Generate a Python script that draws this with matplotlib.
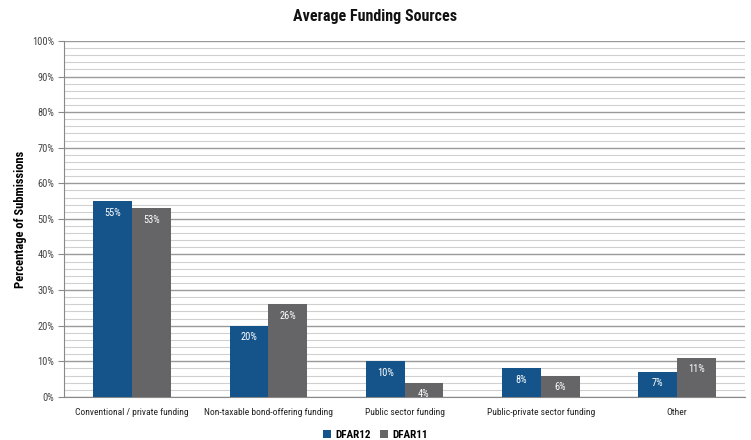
import matplotlib.pyplot as plt
import numpy as np
from matplotlib.ticker import MultipleLocator, FuncFormatter

# narrow faces first; whichever is installed gets used
plt.rcParams['font.family'] = ['Liberation Sans Narrow', 'DejaVu Sans Condensed',
                               'Roboto Condensed', 'Roboto', 'DejaVu Sans']

categories = ['Conventional / private funding', 'Non-taxable bond-offering funding',
              'Public sector funding', 'Public-private sector funding', 'Other']
dfar12 = [55, 20, 10, 8, 7]
dfar11 = [53, 26, 4, 6, 11]

blue = '#14548a'
grey = '#656567'

fig = plt.figure(figsize=(7.51, 4.40), dpi=100)
ax = fig.add_axes([0.0852, 0.098, 0.907, 0.809])

x = np.arange(len(categories))
w = 0.285
b1 = ax.bar(x - w / 2, dfar12, w, color=blue, label='DFAR12', zorder=3)
b2 = ax.bar(x + w / 2, dfar11, w, color=grey, label='DFAR11', zorder=3)

for bars, vals in ((b1, dfar12), (b2, dfar11)):
    for r, v in zip(bars, vals):
        ax.text(r.get_x() + r.get_width() / 2, v - 1.8, f'{v}%', ha='center', va='top',
                color='white', fontsize=7.5, zorder=4)

ax.set_xlim(-0.5, len(categories) - 0.5)
ax.set_ylim(0, 100)
ax.yaxis.set_major_locator(MultipleLocator(10))
ax.yaxis.set_minor_locator(MultipleLocator(2))
ax.yaxis.set_major_formatter(FuncFormatter(lambda v, _: f'{int(v)}%'))
ax.grid(axis='y', which='major', color='#9a9a9a', linewidth=1.0, zorder=0)
ax.grid(axis='y', which='minor', color='#d0d0d0', linewidth=0.8, zorder=0)
ax.tick_params(axis='y', which='major', labelsize=7.5, length=4, color='#888888',
               labelcolor='#444444', pad=3)
ax.tick_params(axis='y', which='minor', length=0)
ax.tick_params(axis='x', length=0, labelsize=6.8, labelcolor='#222222', pad=8)
ax.set_xticks(x)
ax.set_xticklabels(categories)

for s in ('top', 'right'):
    ax.spines[s].set_visible(False)
for s in ('left', 'bottom'):
    ax.spines[s].set_color('#888888')

ax.set_ylabel('Percentage of Submissions', fontsize=9, fontweight='bold', labelpad=4)
fig.text(0.5, 0.962, 'Average Funding Sources', ha='center', va='center',
         fontsize=11.5, fontweight='bold', color='#111111')

fig.legend(loc='center', bbox_to_anchor=(0.5, 0.012), ncol=2, frameon=False,
           handlelength=0.7, handleheight=0.7, columnspacing=0.8,
           handletextpad=0.4, prop={'weight': 'bold', 'size': 8})

fig.savefig('out.png', dpi=100)
